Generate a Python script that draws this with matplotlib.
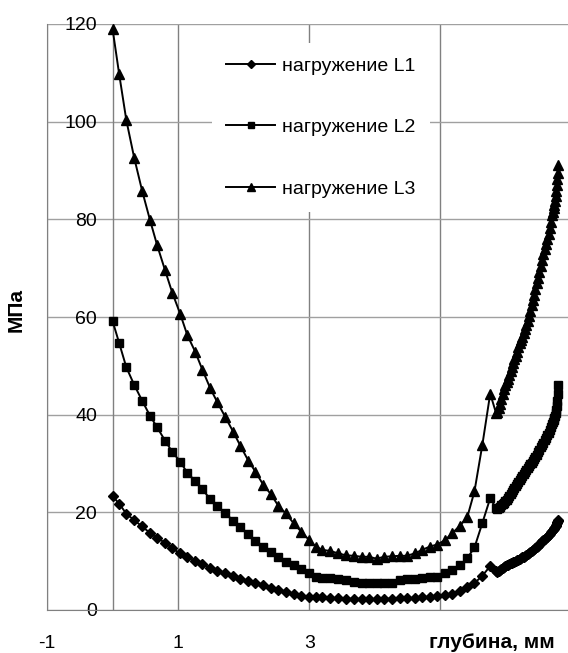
import matplotlib
matplotlib.use("Agg")
import matplotlib.pyplot as plt
import numpy as np

plt.rcParams['font.family'] = ['Liberation Sans', 'DejaVu Sans']

# depth grid, mm (coarse part then dense part near the surface)
x_coarse = [0, 0.1, 0.21, 0.33, 0.45, 0.57, 0.68, 0.8, 0.91, 1.03,
            1.14, 1.26, 1.37, 1.49, 1.6, 1.72, 1.84, 1.95, 2.07, 2.18,
            2.3, 2.41, 2.53, 2.64, 2.76, 2.88, 3.0, 3.1, 3.2, 3.32,
            3.44, 3.56, 3.68, 3.8, 3.91, 4.03, 4.14, 4.26, 4.38, 4.49,
            4.61, 4.72, 4.84, 4.95, 5.07, 5.18, 5.3, 5.41, 5.52, 5.64, 5.76]
x_dense = [5.85, 5.87, 5.89, 5.91, 5.93, 5.95, 5.97, 5.99, 6.01, 6.03,
           6.05, 6.07, 6.09, 6.11, 6.13, 6.15, 6.17, 6.19, 6.21, 6.23,
           6.25, 6.27, 6.29, 6.31, 6.33, 6.35, 6.37, 6.39, 6.41, 6.43,
           6.45, 6.47, 6.49, 6.51, 6.53, 6.55, 6.57, 6.59, 6.61, 6.63,
           6.65, 6.67, 6.69, 6.71, 6.72, 6.73, 6.74, 6.75, 6.76, 6.77,
           6.775, 6.78, 6.79, 6.80]

L1 = [23.3, 21.8, 19.7, 18.4, 17.1, 15.8, 14.7, 13.8, 12.6, 11.6,
      10.9, 10.1, 9.4, 8.7, 8.0, 7.5, 7.0, 6.4, 5.9, 5.6,
      5.2, 4.6, 4.1, 3.6, 3.3, 2.9, 2.7, 2.6, 2.6, 2.5,
      2.4, 2.3, 2.3, 2.2, 2.2, 2.2, 2.3, 2.3, 2.4, 2.4,
      2.5, 2.6, 2.7, 2.8, 3.0, 3.2, 3.8, 4.8, 5.5, 7.0, 9.0,
      7.9, 7.8, 8.0, 8.2, 8.4, 8.6, 8.8, 9.0, 9.2, 9.3,
      9.5, 9.6, 9.7, 9.8, 9.9, 10.0, 10.2, 10.3, 10.5, 10.6,
      10.8, 10.9, 11.1, 11.2, 11.4, 11.6, 11.8, 12.0, 12.2, 12.4,
      12.7, 12.9, 13.2, 13.5, 13.8, 14.1, 14.3, 14.5, 14.8, 15.0,
      15.3, 15.6, 15.9, 16.2, 16.4, 16.6, 16.8, 17.0, 17.2, 17.5,
      17.8, 18.0, 18.3, 18.5]
L2 = [59.2, 54.7, 49.7, 46.1, 42.9, 39.8, 37.4, 34.7, 32.4, 30.4,
      28.1, 26.4, 24.7, 22.7, 21.2, 19.8, 18.3, 16.9, 15.5, 14.2,
      13.0, 11.9, 10.9, 9.9, 9.2, 8.3, 7.6, 6.7, 6.5, 6.5,
      6.3, 6.1, 5.8, 5.6, 5.6, 5.6, 5.6, 5.6, 6.1, 6.3,
      6.3, 6.5, 6.7, 6.8, 7.5, 8.2, 9.2, 10.6, 12.8, 17.8, 22.9,
      20.8, 20.6, 20.8, 21.1, 21.4, 21.7, 22.0, 22.3, 22.6, 23.0,
      23.4, 23.8, 24.2, 24.6, 25.0, 25.4, 25.8, 26.2, 26.6, 27.0,
      27.4, 27.8, 28.2, 28.6, 29.0, 29.4, 29.8, 30.2, 30.6, 31.0,
      31.4, 31.8, 32.3, 32.8, 33.3, 33.8, 34.3, 34.8, 35.3, 35.8,
      36.3, 36.9, 37.5, 38.1, 38.5, 38.9, 39.3, 39.7, 40.3, 41.0,
      41.8, 42.8, 44.2, 46.0]
L3 = [119.0, 109.8, 100.3, 92.6, 85.9, 79.9, 74.7, 69.6, 65.0, 60.7,
      56.3, 52.9, 49.2, 45.4, 42.5, 39.5, 36.5, 33.6, 30.6, 28.3,
      25.6, 23.8, 21.3, 19.8, 17.8, 16.0, 14.3, 13.0, 12.3, 12.1,
      11.6, 11.2, 11.1, 10.9, 10.9, 10.5, 10.9, 11.0, 11.1, 11.1,
      11.6, 12.3, 13.0, 13.4, 14.3, 15.7, 17.3, 19.0, 24.3, 33.8, 44.3,
      40.3, 40.5, 41.3, 42.2, 43.2, 44.3, 45.3, 46.0, 46.7, 47.4,
      48.1, 48.9, 49.7, 50.5, 51.3, 52.1, 52.9, 53.8, 54.6, 55.3,
      56.0, 56.7, 57.5, 58.3, 59.2, 60.2, 61.3, 62.4, 63.5, 64.6,
      65.7, 66.9, 68.0, 69.2, 70.4, 71.6, 72.8, 74.0, 75.0, 76.0,
      77.0, 78.2, 79.5, 80.9, 81.6, 82.3, 83.0, 83.7, 84.7, 85.8,
      87.0, 88.2, 89.5, 91.2]
labels = ["нагружение L1", "нагружение L2", "нагружение L3"]

depth = np.array(x_coarse + x_dense)

W, H = 568, 653
fig = plt.figure(figsize=(W / 100, H / 100), dpi=100)
ax = fig.add_axes([47 / W, (H - 610) / H, (W - 47) / W, (610 - 24) / H])

ax.set_xlim(-1, (W - 113) / 65.5)
ax.set_ylim(0, 120)

ax.set_yticks(range(0, 121, 20))
ax.set_xticks([-1, 1, 3, 5])
ax.set_xticklabels(["-1", "1", "3", ""])
ax.grid(axis="y", color="#a0a0a0", lw=1)
ax.grid(axis="x", color="#808080", lw=1)
ax.axvline(0, color="#808080", lw=1)
ax.set_axisbelow(True)
for s in ["top", "right"]:
    ax.spines[s].set_visible(False)
for s in ["left", "bottom"]:
    ax.spines[s].set_color("#808080")
ax.tick_params(length=0, labelsize=14)
ax.tick_params(axis="x", pad=18)
ax.tick_params(axis="y", pad=-36)

ax.plot(depth, L1, color="black", lw=1.4, marker="D", ms=5.5, label=labels[0], clip_on=False)
ax.plot(depth, L2, color="black", lw=1.4, marker="s", ms=5.5, label=labels[1], clip_on=False)
ax.plot(depth, L3, color="black", lw=1.4, marker="^", ms=7.5, label=labels[2], clip_on=False)

leg = ax.legend(loc="upper left", bbox_to_anchor=(202 / W, 1 - 33 / H),
                bbox_transform=fig.transFigure, fontsize=14, frameon=True,
                facecolor="white", edgecolor="none", framealpha=1, fancybox=False,
                handlelength=2.5, handletextpad=0.35, labelspacing=2.25,
                borderpad=0.75, markerscale=0.7)

fig.text(16 / W, 1 - 310 / H, "МПа", rotation=90, fontsize=15, fontweight="bold",
         ha="center", va="center")
fig.text(492 / W, 1 - 642 / H, "глубина, мм", fontsize=15, fontweight="bold",
         ha="center", va="center")

fig.savefig("out.png", dpi=100)
